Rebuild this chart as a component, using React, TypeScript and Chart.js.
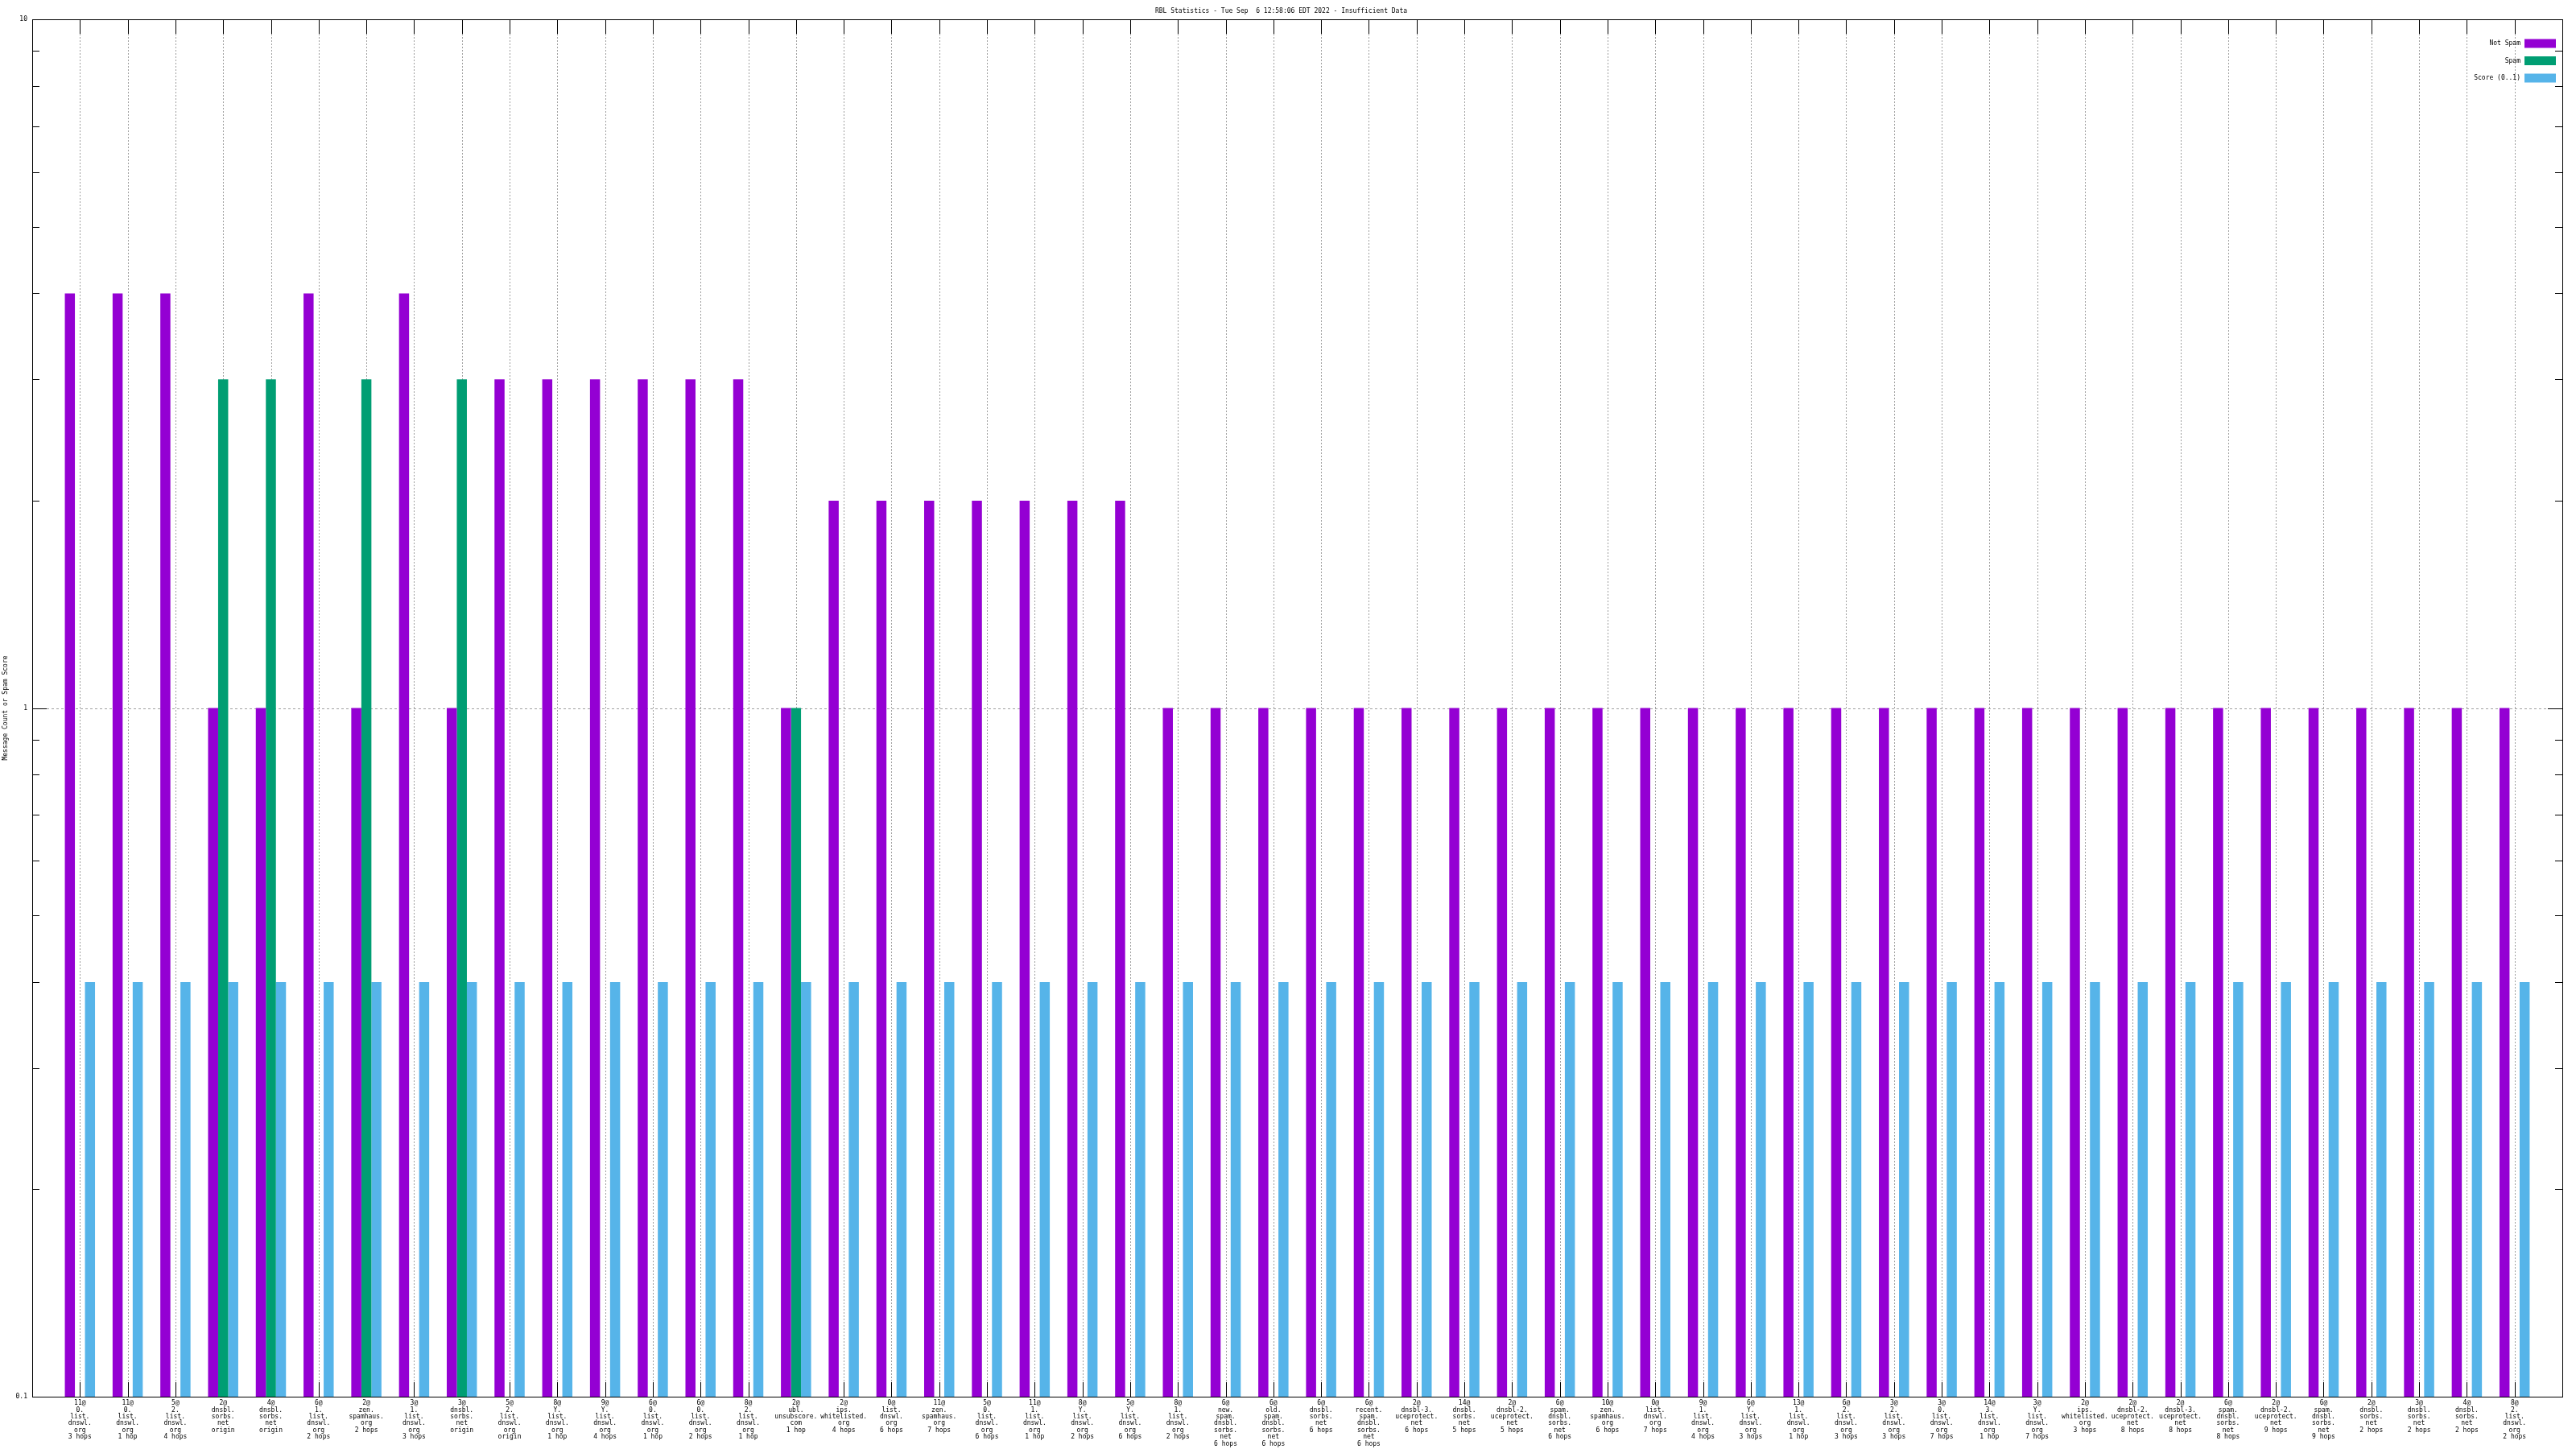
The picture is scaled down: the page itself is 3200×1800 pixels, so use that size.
import React, { useEffect, useRef } from "react";
import { Chart, registerables } from "chart.js";

Chart.register(...registerables);

const TITLE = "RBL Statistics - Tue Sep  6 12:58:06 EDT 2022 - Insufficient Data";
const Y_TITLE = "Message Count or Spam Score";

const categories: string[][] = [
  ["11@", "0.", "list.", "dnswl.", "org", "3 hops"],
  ["11@", "0.", "list.", "dnswl.", "org", "1 hop"],
  ["5@", "2.", "list.", "dnswl.", "org", "4 hops"],
  ["2@", "dnsbl.", "sorbs.", "net", "origin"],
  ["4@", "dnsbl.", "sorbs.", "net", "origin"],
  ["6@", "1.", "list.", "dnswl.", "org", "2 hops"],
  ["2@", "zen.", "spamhaus.", "org", "2 hops"],
  ["3@", "1.", "list.", "dnswl.", "org", "3 hops"],
  ["3@", "dnsbl.", "sorbs.", "net", "origin"],
  ["5@", "2.", "list.", "dnswl.", "org", "origin"],
  ["8@", "Y.", "list.", "dnswl.", "org", "1 hop"],
  ["9@", "Y.", "list.", "dnswl.", "org", "4 hops"],
  ["6@", "0.", "list.", "dnswl.", "org", "1 hop"],
  ["6@", "0.", "list.", "dnswl.", "org", "2 hops"],
  ["8@", "2.", "list.", "dnswl.", "org", "1 hop"],
  ["2@", "ubl.", "unsubscore.", "com", "1 hop"],
  ["2@", "ips.", "whitelisted.", "org", "4 hops"],
  ["0@", "list.", "dnswl.", "org", "6 hops"],
  ["11@", "zen.", "spamhaus.", "org", "7 hops"],
  ["5@", "0.", "list.", "dnswl.", "org", "6 hops"],
  ["11@", "1.", "list.", "dnswl.", "org", "1 hop"],
  ["8@", "Y.", "list.", "dnswl.", "org", "2 hops"],
  ["5@", "Y.", "list.", "dnswl.", "org", "6 hops"],
  ["8@", "1.", "list.", "dnswl.", "org", "2 hops"],
  ["6@", "new.", "spam.", "dnsbl.", "sorbs.", "net", "6 hops"],
  ["6@", "old.", "spam.", "dnsbl.", "sorbs.", "net", "6 hops"],
  ["6@", "dnsbl.", "sorbs.", "net", "6 hops"],
  ["6@", "recent.", "spam.", "dnsbl.", "sorbs.", "net", "6 hops"],
  ["2@", "dnsbl-3.", "uceprotect.", "net", "6 hops"],
  ["14@", "dnsbl.", "sorbs.", "net", "5 hops"],
  ["2@", "dnsbl-2.", "uceprotect.", "net", "5 hops"],
  ["6@", "spam.", "dnsbl.", "sorbs.", "net", "6 hops"],
  ["10@", "zen.", "spamhaus.", "org", "6 hops"],
  ["0@", "list.", "dnswl.", "org", "7 hops"],
  ["9@", "1.", "list.", "dnswl.", "org", "4 hops"],
  ["6@", "Y.", "list.", "dnswl.", "org", "3 hops"],
  ["13@", "1.", "list.", "dnswl.", "org", "1 hop"],
  ["6@", "2.", "list.", "dnswl.", "org", "3 hops"],
  ["3@", "2.", "list.", "dnswl.", "org", "3 hops"],
  ["3@", "0.", "list.", "dnswl.", "org", "7 hops"],
  ["14@", "3.", "list.", "dnswl.", "org", "1 hop"],
  ["3@", "Y.", "list.", "dnswl.", "org", "7 hops"],
  ["2@", "ips.", "whitelisted.", "org", "3 hops"],
  ["2@", "dnsbl-2.", "uceprotect.", "net", "8 hops"],
  ["2@", "dnsbl-3.", "uceprotect.", "net", "8 hops"],
  ["6@", "spam.", "dnsbl.", "sorbs.", "net", "8 hops"],
  ["2@", "dnsbl-2.", "uceprotect.", "net", "9 hops"],
  ["6@", "spam.", "dnsbl.", "sorbs.", "net", "9 hops"],
  ["2@", "dnsbl.", "sorbs.", "net", "2 hops"],
  ["3@", "dnsbl.", "sorbs.", "net", "2 hops"],
  ["4@", "dnsbl.", "sorbs.", "net", "2 hops"],
  ["8@", "2.", "list.", "dnswl.", "org", "2 hops"],
];

const notSpam: (number | null)[] = [
  4, 4, 4, 1, 1, 4, 1, 4, 1, 3, 3, 3, 3, 3, 3, 1, 2, 2, 2, 2, 2, 2, 2, 1, 1, 1,
  1, 1, 1, 1, 1, 1, 1, 1, 1, 1, 1, 1, 1, 1, 1, 1, 1, 1, 1, 1, 1, 1, 1, 1, 1, 1,
];

const spam: (number | null)[] = [
  null, null, null, 3, 3, null, 3, null, 3, null, null, null, null, null, null, 1,
  null, null, null, null, null, null, null, null, null, null, null, null, null, null,
  null, null, null, null, null, null, null, null, null, null, null, null, null, null,
  null, null, null, null, null, null, null, null,
];

const score: (number | null)[] = [
  0.4, 0.4, 0.4, 0.4, 0.4, 0.4, 0.4, 0.4, 0.4, 0.4, 0.4, 0.4, 0.4, 0.4, 0.4, 0.4,
  0.4, 0.4, 0.4, 0.4, 0.4, 0.4, 0.4, 0.4, 0.4, 0.4, 0.4, 0.4, 0.4, 0.4, 0.4, 0.4,
  0.4, 0.4, 0.4, 0.4, 0.4, 0.4, 0.4, 0.4, 0.4, 0.4, 0.4, 0.4, 0.4, 0.4, 0.4, 0.4,
  0.4, 0.4, 0.4, 0.4,
];

const yMajorTicks = [0.1, 1, 10];
const yMinorTicks = [0.2, 0.3, 0.4, 0.5, 0.6, 0.7, 0.8, 0.9, 2, 3, 4, 5, 6, 7, 8, 9];

const seriesNames = ["Not Spam", "Spam", "Score (0..1)"];
const seriesColors = ["#9400d3", "#009e73", "#56b4e9"];

const FONT = "'DejaVu Sans Mono', monospace";

const gnuplotFrame = {
  id: "gnuplotFrame",
  beforeDatasetsDraw(chart: any) {
    const { ctx, chartArea } = chart;
    const { left, right, top, bottom } = chartArea;
    const xs = chart.scales.x;
    const ys = chart.scales.y;
    const major = 18;
    const minor = 9;
    ctx.save();
    // x grid (dotted) and ticks
    for (let i = 1; i <= categories.length; i++) {
      const px = Math.round(xs.getPixelForValue(i)) + 0.5;
      ctx.strokeStyle = "#a0a0a0";
      ctx.lineWidth = 1;
      ctx.setLineDash([2, 2]);
      ctx.beginPath();
      ctx.moveTo(px, top + major);
      ctx.lineTo(px, bottom - major);
      ctx.stroke();
      ctx.setLineDash([]);
      ctx.strokeStyle = "#000";
      ctx.beginPath();
      ctx.moveTo(px, top);
      ctx.lineTo(px, top + major);
      ctx.moveTo(px, bottom);
      ctx.lineTo(px, bottom - major);
      ctx.stroke();
    }
    // y grid at inner majors, ticks
    for (const v of yMajorTicks) {
      const py = Math.round(ys.getPixelForValue(v)) + 0.5;
      if (py <= top + 1 || py >= bottom - 1) continue;
      ctx.strokeStyle = "#a0a0a0";
      ctx.setLineDash([3, 3]);
      ctx.beginPath();
      ctx.moveTo(left + major, py);
      ctx.lineTo(right - major, py);
      ctx.stroke();
      ctx.setLineDash([]);
      ctx.strokeStyle = "#000";
      ctx.beginPath();
      ctx.moveTo(left, py);
      ctx.lineTo(left + major, py);
      ctx.moveTo(right, py);
      ctx.lineTo(right - major, py);
      ctx.stroke();
    }
    ctx.strokeStyle = "#000";
    for (const v of yMinorTicks) {
      const py = Math.round(ys.getPixelForValue(v)) + 0.5;
      ctx.beginPath();
      ctx.moveTo(left, py);
      ctx.lineTo(left + minor, py);
      ctx.moveTo(right, py);
      ctx.lineTo(right - minor, py);
      ctx.stroke();
    }
    ctx.restore();
  },
  afterDatasetsDraw(chart: any) {
    const { ctx, chartArea } = chart;
    const { left, right, top, bottom } = chartArea;
    ctx.save();
    ctx.strokeStyle = "#000";
    ctx.lineWidth = 1;
    ctx.strokeRect(Math.round(left) + 0.5, Math.round(top) + 0.5, Math.round(right - left), Math.round(bottom - top));
    // legend (text then swatch, right-aligned, inside plot)
    ctx.font = `8px ${FONT}`;
    ctx.fillStyle = "#000";
    ctx.textAlign = "right";
    ctx.textBaseline = "middle";
    const swW = 39;
    const swH = 11;
    const swRight = right - 8;
    for (let i = 0; i < seriesNames.length; i++) {
      const cy = top + 30 + i * 21.5;
      ctx.fillStyle = seriesColors[i];
      ctx.fillRect(swRight - swW, cy - swH / 2, swW, swH);
      ctx.fillStyle = "#000";
      ctx.fillText(seriesNames[i], swRight - swW - 5, cy);
    }
    ctx.restore();
  },
};

export default function App() {
  const ref = useRef<HTMLCanvasElement | null>(null);

  useEffect(() => {
    document.body.style.margin = "0";
    const canvas = ref.current;
    if (!canvas) return;
    Chart.defaults.color = "#000";
    Chart.defaults.font.family = FONT;
    Chart.defaults.font.size = 8;

    const labels: any[] = ["", ...categories, ""];
    const pad = (arr: (number | null)[]) => [null, ...arr, null];

    const chart = new Chart(canvas, {
      type: "bar",
      data: {
        labels,
        datasets: [
          { label: seriesNames[0], data: pad(notSpam), backgroundColor: seriesColors[0], borderWidth: 0 },
          { label: seriesNames[1], data: pad(spam), backgroundColor: seriesColors[1], borderWidth: 0 },
          { label: seriesNames[2], data: pad(score), backgroundColor: seriesColors[2], borderWidth: 0 },
        ],
      },
      options: {
        responsive: false,
        animation: false,
        devicePixelRatio: 1,
        layout: { padding: { left: 0, right: 17, top: 0, bottom: 0 } },
        datasets: {
          bar: { categoryPercentage: 0.632, barPercentage: 1.0, base: 0.1 } as any,
        },
        plugins: {
          legend: { display: false },
          tooltip: { enabled: false },
          title: {
            display: true,
            text: TITLE,
            color: "#000",
            font: { family: FONT, size: 8, weight: "normal", lineHeight: 1 },
            padding: { top: 10, bottom: 6 },
          },
        },
        scales: {
          x: {
            type: "category",
            offset: false,
            grid: { display: false, offset: false, drawTicks: false },
            border: { display: false },
            ticks: {
              autoSkip: false,
              maxRotation: 0,
              minRotation: 0,
              padding: 4,
              color: "#000",
              font: { family: FONT, size: 8, lineHeight: 1.05 },
            },
            afterFit: (scale: any) => {
              scale.height = 65;
            },
          },
          y: {
            type: "logarithmic",
            min: 0.1,
            max: 10,
            grid: { display: false, drawTicks: false },
            border: { display: false },
            afterBuildTicks: (scale: any) => {
              scale.ticks = yMajorTicks.map((v) => ({ value: v }));
            },
            ticks: {
              padding: 6,
              color: "#000",
              font: { family: FONT, size: 8 },
              callback: (v: any) => String(v),
            },
            title: {
              display: true,
              text: Y_TITLE,
              color: "#000",
              font: { family: FONT, size: 8, lineHeight: 1.2 },
              padding: { top: 2, bottom: 0 },
            },
            afterFit: (scale: any) => {
              scale.width = 40;
            },
          },
        },
      },
      plugins: [gnuplotFrame],
    });

    return () => chart.destroy();
  }, []);

  return (
    <canvas
      ref={ref}
      width={3200}
      height={1800}
      style={{ display: "block", width: "3200px", height: "1800px" }}
    />
  );
}
